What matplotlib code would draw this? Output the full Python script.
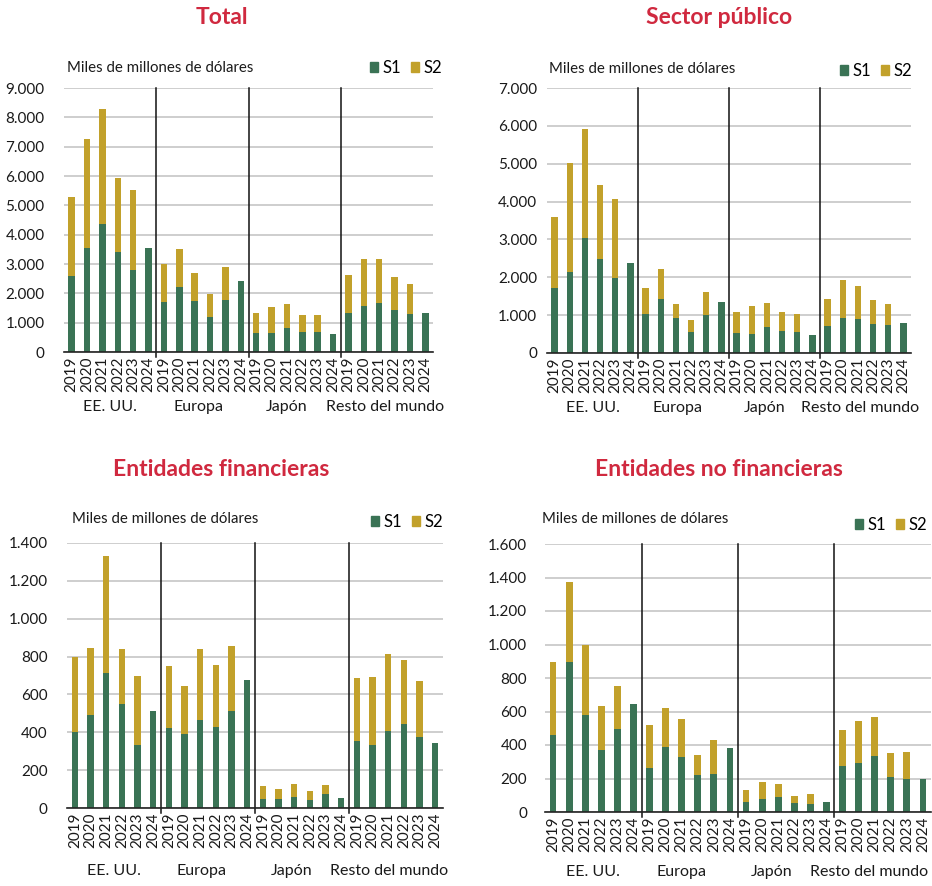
import matplotlib
matplotlib.use("Agg")
import matplotlib.pyplot as plt
import matplotlib.transforms as mtransforms
from matplotlib.patches import Patch
from matplotlib.ticker import FuncFormatter
import numpy as np

plt.rcParams['font.family'] = ['Lato', 'DejaVu Sans']

GREEN = "#3a7355"
GOLD = "#c2a12b"
RED = "#d0293f"

years = ["2019", "2020", "2021", "2022", "2023", "2024"]
regions = ["EE. UU.", "Europa", "Japón", "Resto del mundo"]
unit_label = "Miles de millones de dólares"

# S1 and totals (S1+S2) per panel, region order as above, 2019..2024
total_s1 = [2600, 3550, 4350, 3400, 2800, 3550,
            1720, 2220, 1740, 1200, 1760, 2420,
            640, 640, 830, 680, 680, 600,
            1340, 1560, 1660, 1430, 1310, 1340]
total_sum = [5300, 7250, 8280, 5930, 5520, 3550,
             3000, 3520, 2700, 1980, 2890, 2420,
             1340, 1520, 1640, 1270, 1270, 600,
             2620, 3160, 3160, 2550, 2330, 1340]

public_s1 = [1720, 2150, 3050, 2480, 1980, 2380,
             1030, 1430, 920, 550, 1010, 1360,
             530, 510, 680, 580, 550, 480,
             710, 920, 900, 770, 740, 780]
public_sum = [3600, 5020, 5930, 4450, 4080, 2380,
              1720, 2230, 1290, 880, 1600, 1360,
              1070, 1230, 1330, 1070, 1040, 480,
              1430, 1920, 1760, 1400, 1290, 780]

fin_s1 = [400, 490, 715, 550, 335, 515,
          425, 390, 465, 430, 515, 678,
          45, 50, 60, 43, 72, 55,
          352, 333, 408, 446, 374, 343]
fin_sum = [800, 845, 1330, 840, 695, 515,
           750, 645, 838, 757, 857, 678,
           117, 103, 128, 92, 122, 55,
           688, 693, 815, 780, 672, 343]

nonfin_s1 = [460, 895, 580, 370, 495, 645,
             260, 388, 330, 218, 227, 383,
             58, 75, 88, 52, 46, 62,
             276, 293, 335, 208, 197, 200]
nonfin_sum = [895, 1375, 995, 630, 750, 645,
              520, 622, 555, 340, 428, 383,
              130, 178, 170, 95, 110, 62,
              490, 545, 568, 352, 356, 200]

W, H = 932, 886
fig = plt.figure(figsize=(W / 100, H / 100), dpi=100)


def px_axes(l, t, r, b):
    return fig.add_axes([l / W, 1 - b / H, (r - l) / W, (b - t) / H])


def thousands(v, pos):
    return "{:,.0f}".format(v).replace(",", ".")


def panel(box, title, title_xy, s1, tot, ymax, step, unit_xy, group_off,
          group_shift, ypad, leg_xy):
    ax = px_axes(*box)
    s1 = np.array(s1, dtype=float)
    s2 = np.array(tot, dtype=float) - s1
    x = np.arange(len(s1))
    ax.bar(x, s1, width=0.42, color=GREEN, edgecolor="none", zorder=3)
    ax.bar(x, s2, width=0.42, bottom=s1, color=GOLD, edgecolor="none", zorder=3)

    ax.set_xlim(-0.5, len(s1) - 0.5)
    ax.set_ylim(0, ymax)
    ax.set_yticks(np.arange(0, ymax + 1, step))
    ax.yaxis.set_major_formatter(FuncFormatter(thousands))
    ax.set_xticks(x)
    ax.set_xticklabels(years * len(regions), rotation=90)
    ax.tick_params(axis="both", length=0, labelsize=11, colors="#1a1a1a")
    ax.tick_params(axis="x", pad=3)
    ax.tick_params(axis="y", pad=ypad)
    ax.grid(axis="y", color="#c6c6c6", lw=1.2, zorder=0)
    for s in ["top", "right", "left"]:
        ax.spines[s].set_visible(False)
    ax.spines["bottom"].set_color("#222222")
    ax.spines["bottom"].set_linewidth(1.2)
    ax.spines["bottom"].set_zorder(4)

    for sep in [5.5, 11.5, 17.5]:
        ax.axvline(sep, ymin=-0.02, ymax=1.0, color="#111111", lw=1.1,
                   clip_on=False, zorder=4)

    trans = mtransforms.blended_transform_factory(ax.transData, ax.transAxes)
    for i, reg in enumerate(regions):
        ax.annotate(reg, xy=(i * 6 + 2.5 + group_shift[i], 0), xycoords=trans,
                    xytext=(0, -group_off), textcoords="offset pixels",
                    ha="center", va="center", fontsize=11.5, color="#1a1a1a")

    fig.text(title_xy[0] / W, 1 - title_xy[1] / H, title, ha="center",
             va="center", fontsize=16.5, fontweight="bold", color=RED)
    fig.text(unit_xy[0] / W, 1 - unit_xy[1] / H, unit_label, ha="left",
             va="center", fontsize=10.8, color="#1a1a1a")

    handles = [Patch(color=GREEN, label="S1"), Patch(color=GOLD, label="S2")]
    fig.legend(handles=handles, ncol=2, loc="center right",
               bbox_to_anchor=(leg_xy[0] / W, 1 - leg_xy[1] / H),
               bbox_transform=fig.transFigure, frameon=False, fontsize=12,
               handlelength=0.5, handleheight=0.5, handletextpad=0.25,
               columnspacing=0.6, borderaxespad=0, borderpad=0)
    return ax


panel((64, 88, 433, 352), "Total", (222, 17), total_s1, total_sum,
      9000, 1000, (67, 68), 55, [0, -0.26, -0.52, -0.13], 14, (442, 68))
panel((547, 88, 911, 353), "Sector público", (719, 17), public_s1, public_sum,
      7000, 1000, (549, 69), 55, [0, -0.4, -0.66, -0.33], 7, (912, 71))
panel((67, 543, 443, 808), "Entidades financieras", (221, 469), fin_s1, fin_sum,
      1400, 200, (72, 519), 63, [0, -0.4, -0.64, -0.45], 14, (443, 522))
panel((545, 544, 931, 812), "Entidades no financieras", (719, 469), nonfin_s1,
      nonfin_sum, 1600, 200, (542, 519), 60, [0, -0.5, -0.9, -0.85], 13,
      (927, 525))

fig.savefig("out.png", dpi=100)
